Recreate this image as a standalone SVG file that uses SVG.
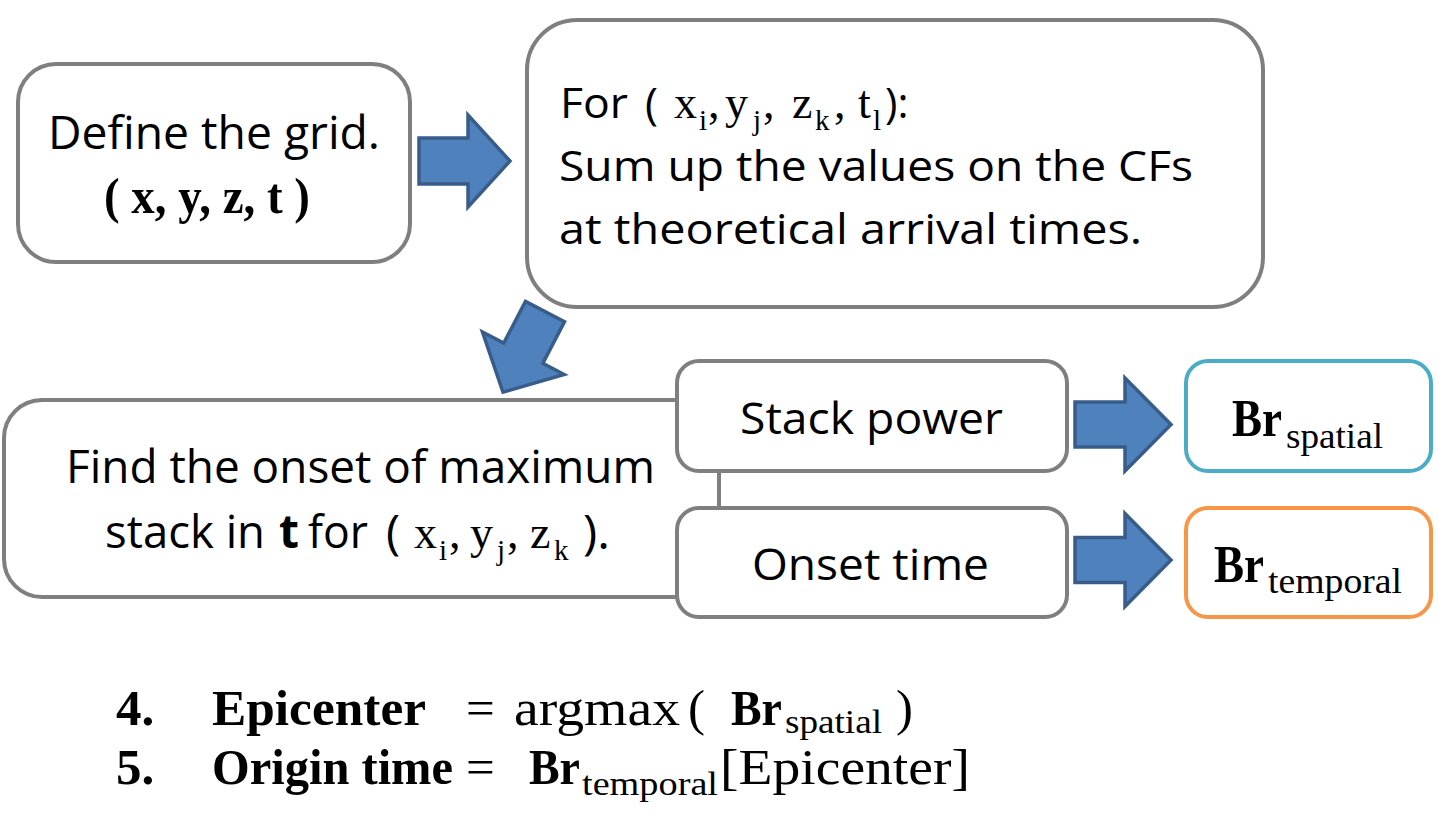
<svg xmlns="http://www.w3.org/2000/svg" width="1439" height="840" viewBox="0 0 1439 840">
<defs>
<style>
.box{fill:#fff;stroke:#7f7f7f;stroke-width:4}
.arr{fill:#4f81bd;stroke:#385d8a;stroke-width:3.5;stroke-linejoin:miter}
.s{font-family:"Open Sans","Noto Sans",sans-serif;fill:#000}
.m{font-family:"Liberation Serif","DejaVu Serif",serif;fill:#000}
.b{font-weight:bold}
</style>
</defs>
<g id="connectors">
<path class="arr" transform="translate(419,161)" d="M0,-23 H49 V-46 L91,0 L49,46 V23 H0 Z"/>
<path class="arr" transform="translate(545,311.5) rotate(117.5)" d="M0,-22 H47 V-46 L91,0 L47,46 V22 H0 Z"/>
<path class="arr" transform="translate(1075,424.5)" d="M0,-22.5 H50 V-46.5 L96,0 L50,46.5 V22.5 H0 Z"/>
<path class="arr" transform="translate(1075,560)" d="M0,-22.5 H50 V-46.5 L96,0 L50,46.5 V22.5 H0 Z"/>
</g>
<g id="node-define">
<rect class="box" x="18" y="64" width="392" height="198" rx="38"/>
<text class="s" x="48" y="149" font-size="45" textLength="332" lengthAdjust="spacingAndGlyphs">Define the grid.</text>
<text class="m b" x="104" y="213" font-size="50" textLength="206" lengthAdjust="spacingAndGlyphs">( x, y, z, t )</text>
</g>
<g id="node-for">
<rect class="box" x="527" y="20" width="736" height="287" rx="50"/>
<text class="s" x="560" y="118" font-size="42" textLength="68" lengthAdjust="spacingAndGlyphs">For</text>
<text class="s" x="645" y="119" font-size="44">(</text>
<text class="m" y="118" font-size="46"><tspan x="674">x</tspan><tspan x="699" y="130" font-size="29">i</tspan><tspan x="708" y="118">,</tspan><tspan x="725">y</tspan><tspan x="753" y="130" font-size="29">j</tspan><tspan x="763" y="118">,</tspan><tspan x="792">z</tspan><tspan x="815" y="130" font-size="29">k</tspan><tspan x="834" y="118">,</tspan><tspan x="858">t</tspan><tspan x="873" y="130" font-size="29">l</tspan></text>
<text class="s" x="885" y="118" font-size="42">):</text>
<text class="s" x="559" y="181" font-size="42" textLength="634" lengthAdjust="spacingAndGlyphs">Sum up the values on the CFs</text>
<text class="s" x="559" y="244" font-size="42" textLength="583" lengthAdjust="spacingAndGlyphs">at theoretical arrival times.</text>
</g>
<g id="node-find">
<rect class="box" x="4" y="400" width="715" height="197" rx="38"/>
<text class="s" x="66" y="483" font-size="46" textLength="589" lengthAdjust="spacingAndGlyphs">Find the onset of maximum</text>
<text class="s" x="105" y="548" font-size="46" textLength="160" lengthAdjust="spacingAndGlyphs">stack in</text>
<text class="s b" x="279" y="548" font-size="46">t</text>
<text class="s" x="308" y="548" font-size="46" textLength="60" lengthAdjust="spacingAndGlyphs">for</text>
<text class="s" x="386" y="549" font-size="48">(</text>
<text class="m" y="548" font-size="46"><tspan x="414">x</tspan><tspan x="439" y="560" font-size="29">i</tspan><tspan x="449" y="548">,</tspan><tspan x="470">y</tspan><tspan x="497" y="560" font-size="29">j</tspan><tspan x="507" y="548">,</tspan><tspan x="530">z</tspan><tspan x="554" y="560" font-size="29">k</tspan></text>
<text class="s" x="583" y="549" font-size="48">).</text>
</g>
<g id="node-stack">
<rect class="box" x="677" y="361" width="390" height="110" rx="22"/>
<text class="s" x="740" y="434" font-size="44" textLength="263" lengthAdjust="spacingAndGlyphs">Stack power</text>
</g>
<g id="node-onset">
<rect class="box" x="677" y="508" width="390" height="109" rx="22"/>
<text class="s" x="752" y="580" font-size="44" textLength="237" lengthAdjust="spacingAndGlyphs">Onset time</text>
</g>
<g id="node-brs">
<rect x="1186" y="361" width="245" height="110" rx="22" fill="#fff" stroke="#4bacc6" stroke-width="4"/>
<text class="m" y="436"><tspan class="b" x="1232" font-size="53" textLength="50" lengthAdjust="spacingAndGlyphs">Br</tspan><tspan x="1286" y="448" font-size="36" textLength="97" lengthAdjust="spacingAndGlyphs">spatial</tspan></text>
</g>
<g id="node-brt">
<rect x="1186" y="508" width="245" height="109" rx="22" fill="#fff" stroke="#f79646" stroke-width="4"/>
<text class="m" y="582"><tspan class="b" x="1214" font-size="53" textLength="50" lengthAdjust="spacingAndGlyphs">Br</tspan><tspan x="1268" y="593" font-size="36" textLength="134" lengthAdjust="spacingAndGlyphs">temporal</tspan></text>
</g>
<g id="formulas">
<text class="m" y="725" font-size="51"><tspan class="b" x="116">4.</tspan><tspan class="b" x="212" textLength="214" lengthAdjust="spacingAndGlyphs">Epicenter</tspan><tspan x="466">=</tspan><tspan x="514" textLength="166" lengthAdjust="spacingAndGlyphs">argmax</tspan><tspan x="688">(</tspan><tspan class="b" x="731" textLength="51" lengthAdjust="spacingAndGlyphs">Br</tspan><tspan x="785" y="733" font-size="33" textLength="97" lengthAdjust="spacingAndGlyphs">spatial</tspan><tspan x="896" y="725">)</tspan></text>
<text class="m" y="784" font-size="51"><tspan class="b" x="116">5.</tspan><tspan class="b" x="212" textLength="241" lengthAdjust="spacingAndGlyphs">Origin time</tspan><tspan x="466">=</tspan><tspan class="b" x="529" textLength="51" lengthAdjust="spacingAndGlyphs">Br</tspan><tspan x="582" y="795" font-size="33" textLength="136" lengthAdjust="spacingAndGlyphs">temporal</tspan><tspan x="720" y="784" textLength="250" lengthAdjust="spacingAndGlyphs">[Epicenter]</tspan></text>
</g>
</svg>
